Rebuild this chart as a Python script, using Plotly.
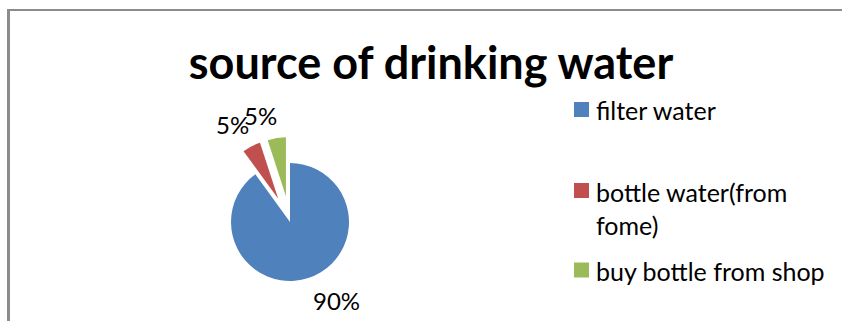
import math
import plotly.graph_objects as go

# Survey answers: where households get their drinking water
sources = ["filter water", "bottle water(from fome)", "buy bottle from shop"]
shares = [90, 5, 5]
legend_labels = ["filter water", "bottle water(from<br>fome)", "buy bottle from shop"]
slice_colors = ["#4F81BD", "#C0504D", "#9BBB59"]
pulls = [0, 0.44, 0.44]

W, H = 842, 321
FONT = "Lato, 'Noto Sans', sans-serif"


def px(x):
    return x / W


def py(y):
    return 1 - y / H


# pie box: centre (290, 222), radius 59, with room for the pulled wedges
cx, cy, r = 290, 222, 59
half = r * (1 + max(pulls))

fig = go.Figure()
fig.add_trace(go.Pie(
    labels=sources,
    values=shares,
    marker=dict(colors=slice_colors, line=dict(width=0)),
    pull=pulls,
    sort=False,
    direction="clockwise",
    rotation=0,
    textinfo="none",
    showlegend=False,
    domain=dict(x=[px(cx - half), px(cx + half)], y=[py(cy + half), py(cy - half)]),
    hoverinfo="label+percent",
))

shapes = [
    # chart frame (left and top edges)
    dict(type="line", xref="paper", yref="paper", x0=px(8.5), x1=px(8.5), y0=py(9), y1=0,
         line=dict(color="#8c8c8c", width=3)),
    dict(type="line", xref="paper", yref="paper", x0=px(7), x1=1, y0=py(10), y1=py(10),
         line=dict(color="#8c8c8c", width=2)),
]
annotations = []

# percentage labels placed just outside each wedge, along its bisector
total = sum(shares)
start = 0.0
for v, p in zip(shares, pulls):
    frac = v / total
    mid = (start + frac / 2) * 2 * math.pi  # clockwise from 12 o'clock
    start += frac
    dist = r * (1 + p) + 7
    lx = cx + dist * math.sin(mid)
    ly = cy - dist * math.cos(mid)
    annotations.append(dict(
        xref="paper", yref="paper", x=px(lx), y=py(ly),
        xanchor="left" if math.sin(mid) > 0 else "right",
        yanchor="top" if math.cos(mid) < 0 else "bottom",
        xshift=2,
        showarrow=False, text=f"{frac * 100:.0f}%",
        font=dict(family=FONT, size=24, color="#000000"),
        borderpad=0,
    ))

# legend on the right: colour key plus label
legend_rows = [109.5, 190.5, 270]
for lab, col, yc in zip(legend_labels, slice_colors, legend_rows):
    shapes.append(dict(type="rect", xref="paper", yref="paper",
                       x0=px(574), x1=px(589), y0=py(yc + 7.5), y1=py(yc - 7.5),
                       fillcolor=col, line=dict(width=0)))
    annotations.append(dict(xref="paper", yref="paper", x=px(594), y=py(yc - 16),
                            xanchor="left", yanchor="top", align="left", showarrow=False,
                            text=lab, font=dict(family=FONT, size=25, color="#000000")))

fig.update_layout(
    width=W, height=H,
    margin=dict(l=0, r=0, t=0, b=0, autoexpand=False),
    paper_bgcolor="#ffffff",
    plot_bgcolor="#ffffff",
    title=dict(text="<b>source of drinking water</b>", x=px(431), xanchor="center",
               y=py(63), yanchor="middle",
               font=dict(family=FONT, size=45, color="#000000")),
    shapes=shapes,
    annotations=annotations,
)

fig.write_html("out.html")
